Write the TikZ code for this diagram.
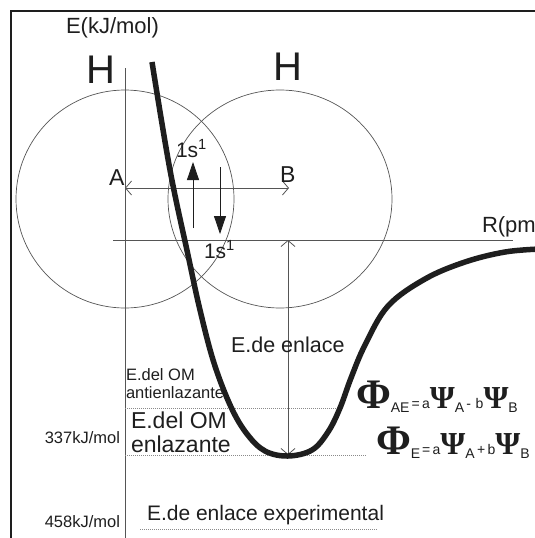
\documentclass[tikz,border=0pt]{standalone}
\usepackage{fontspec}
\setmainfont{Liberation Sans}
\newfontfamily\grkfont{Liberation Serif}
\usetikzlibrary{arrows.meta}
\definecolor{ink}{HTML}{1E1E1E}
\definecolor{thin}{HTML}{555555}
\definecolor{dots}{HTML}{8A8A8A}
\newcommand\fs[1]{\fontsize{#1}{#1}\selectfont}
\newcommand\bigPhi{{\grkfont\bfseries\fs{42}Φ}}
\newcommand\bigPsi{{\grkfont\bfseries\fs{32}Ψ}}
\newcommand\lowsub[1]{\raisebox{-4pt}{\fs{14}#1}}
\newcommand\midtxt[1]{{\fs{14}#1}}
\begin{document}
\begin{tikzpicture}[x=1pt,y=-1pt,
  txt/.style={inner sep=0pt,outer sep=0pt,text=ink},
  axis/.style={draw=thin,line width=0.9pt},
  orbit/.style={draw=thin,line width=0.7pt},
  level/.style={draw=dots,line width=0.8pt,dash pattern=on 1pt off 1pt},
  bond/.style={draw=thin,line width=0.8pt,{Straight Barb[length=6pt,width=14pt]}-{Straight Barb[length=6pt,width=14pt]}},
  spin/.style={draw=ink,line width=0.8pt,-{Triangle[length=18pt,width=12pt]}}]
\useasboundingbox (0,0) rectangle (535,538);
% frame (top and left edges)
\draw[line width=2pt,ink] (11,538) -- (11,11) -- (540,11);

% atomic orbitals of the two H atoms
\draw[orbit] (125,199) circle (109);
\draw[orbit] (280,199) ellipse (112 and 109);

% axes
\coordinate (eTop) at (125,68);
\coordinate (eBot) at (125,538);
\draw[axis] (eTop) -- (eBot);
\coordinate (rL) at (113,240);
\coordinate (rR) at (513,240);
\draw[axis] (rL) -- (rR);

% internuclear distance A <-> B
\coordinate (nA) at (125,188);
\coordinate (nB) at (289,188);
\draw[bond] (nA) -- (nB);

% bond energy arrow
\coordinate (bTop) at (288,240);
\coordinate (bBot) at (288,455);
\draw[bond] (bTop) -- (bBot);

% electron spins
\coordinate (up1) at (193,228);
\coordinate (up2) at (193,162);
\draw[spin] (up1) -- (up2);
\coordinate (dn1) at (220,167);
\coordinate (dn2) at (220,234);
\draw[spin] (dn1) -- (dn2);

% energy levels
\coordinate (lvA1) at (125,408);
\coordinate (lvA2) at (338,408);
\draw[level] (lvA1) -- (lvA2);
\coordinate (lvE1) at (125,455);
\coordinate (lvE2) at (366,455);
\draw[level] (lvE1) -- (lvE2);
\coordinate (lvX1) at (140,529);
\coordinate (lvX2) at (378,529);
\draw[level] (lvX1) -- (lvX2);

% potential energy curve
\draw[ink,line width=5.5pt,line cap=butt] plot[smooth,tension=0.6] coordinates {
 (152,62) (170,170) (188,255) (200,310) (214,363) (231,407)
 (247,434) (265,451) (288,456) (312,450) (328,432) (340,408) (351,378)
 (365,345) (388,306) (425,279) (465,262) (505,252) (540,249)};

% labels
\node[txt,anchor=base west,font=\fs{22}] (ylab) at (66,33) {E(kJ/mol)};
\node[txt,anchor=base west,font=\fs{40}] (hA) at (86,83) {H};
\node[txt,anchor=base west,font=\fs{40}] (hB) at (273,80) {H};
\node[txt,anchor=base west,font=\fs{23}] (la) at (109,185) {A};
\node[txt,anchor=base west,font=\fs{23}] (lb) at (280,182) {B};
\node[txt,anchor=base west,font=\fs{21}] (s1) at (176,157) {1s\textsuperscript{1}};
\node[txt,anchor=base west,font=\fs{21}] (s2) at (204,258) {1s\textsuperscript{1}};
\node[txt,anchor=base west,font=\fs{22}] (rlab) at (482,232) {R(pm};
\node[txt,anchor=base west,font=\fs{21.5}] (de) at (231,352) {E.de enlace};
\node[txt,anchor=base west,font=\fs{16.5}] (omA1) at (126,380) {E.del OM};
\node[txt,anchor=base west,font=\fs{16.5}] (omA2) at (126,398) {antienlazante};
\node[txt,anchor=base west,font=\fs{23}] (omE1) at (131,428) {E.del OM};
\node[txt,anchor=base west,font=\fs{23}] (omE2) at (131,452) {enlazante};
\node[txt,anchor=base east,font=\fs{16.5}] (v337) at (120,443) {337kJ/mol};
\node[txt,anchor=base east,font=\fs{16.5}] (v458) at (120,527) {458kJ/mol};
\node[txt,anchor=base west,font=\fs{21}] (dex) at (147,520) {E.de enlace experimental};

% molecular orbitals
\node[txt,anchor=base west] (phiAE) at (356,408)
  {\bigPhi\lowsub{AE}\kern2pt\midtxt{=\,a}\bigPsi\lowsub{A}\midtxt{\,-\,\,b}\bigPsi\lowsub{B}};
\node[txt,anchor=base west] (phiE) at (376,454)
  {\bigPhi\lowsub{E}\kern2pt\midtxt{=\,a}\bigPsi\lowsub{A}\midtxt{\,+\,b}\bigPsi\lowsub{B}};
\end{tikzpicture}
\end{document}
